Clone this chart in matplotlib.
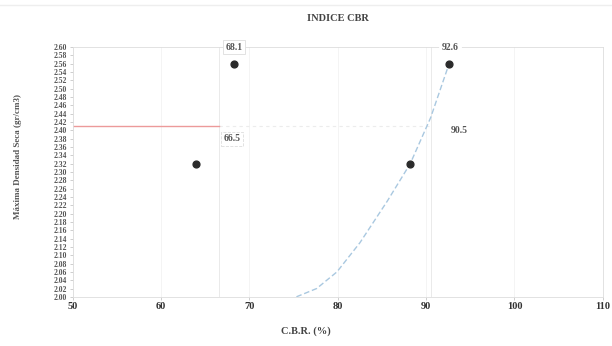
import matplotlib
matplotlib.use("Agg")
import matplotlib.pyplot as plt
import numpy as np

plt.rcParams["font.family"] = ["Liberation Serif", "DejaVu Serif"]

# data
cbr_left = [63.9, 68.2]
mds_left = [2.32, 2.56]
cbr_right = [88.2, 92.6]
mds_right = [2.32, 2.56]
curve_cbr = [74.5, 75.3, 77.6, 79.9, 82.5, 85.6, 88.2, 90.5, 92.6]
curve_mds = [1.99, 2.00, 2.02, 2.06, 2.13, 2.23, 2.32, 2.43, 2.56]
mds_95 = 2.41
cbr_95_left = 66.5
cbr_95_right = 90.5
label_top = ["68.1", "92.6"]
label_95 = ["66.5", "90.5"]
x_ticks = [50, 60, 70, 80, 90, 100, 110]
y_ticks = np.round(np.arange(2.00, 2.601, 0.02), 2)

fig = plt.figure(figsize=(6.12, 3.46), dpi=100)
ax = fig.add_axes([0.119, 0.142, 0.866, 0.722])

# light grid
for xv in x_ticks:
    ax.axvline(xv, color="#f2f2f2", lw=0.6, zorder=0)
ax.axvline(cbr_95_left, color="#e6e6e6", lw=0.6, zorder=0)
ax.axvline(cbr_95_right, color="#e6e6e6", lw=0.6, zorder=0)

# 95% density line
ax.plot([50, cbr_95_left], [mds_95, mds_95], color="#ec9a9a", lw=1.0, zorder=2)
ax.plot([cbr_95_left, cbr_95_right], [mds_95, mds_95], color="#ececec", lw=0.8,
        ls=(0, (3, 3)), zorder=1)

# fitted curve
ax.plot(curve_cbr, curve_mds, color="#a9c8e0", lw=1.0, ls=(0, (4, 2)), zorder=2)

# test points
ax.scatter(cbr_left + cbr_right, mds_left + mds_right, s=24, color="#2b2b2b", zorder=3)

# labels
ax.text(cbr_left[1] + 0.1, 2.60, label_top[0], fontsize=7, color="#555555",
        ha="center", va="center", fontweight="bold",
        bbox=dict(boxstyle="square,pad=0.25", fc="white", ec="#dddddd", lw=0.6))
ax.text(cbr_right[1] + 0.1, 2.60, label_top[1], fontsize=7, color="#555555",
        ha="center", va="center", fontweight="bold",
        bbox=dict(boxstyle="square,pad=0.25", fc="white", ec="white", lw=0.6))
ax.text(68.0, 2.38, label_95[0], fontsize=7, color="#555555",
        ha="center", va="center", fontweight="bold",
        bbox=dict(boxstyle="square,pad=0.25", fc="white", ec="#dddddd", lw=0.6, ls="--"))
ax.text(93.8, 2.40, label_95[1], fontsize=7, color="#555555",
        ha="center", va="center", fontweight="bold")

ax.set_xlim(50, 110)
ax.set_ylim(2.00, 2.60)
ax.set_xticks(x_ticks)
ax.set_xticklabels([str(v) for v in x_ticks], fontsize=7.5, color="#333333",
                   fontweight="bold")
ax.set_yticks(y_ticks)
ax.set_yticklabels([f"{v:.2f}" for v in y_ticks], fontsize=5.5, color="#555555",
                   fontweight="bold")
ax.tick_params(axis="both", length=2, width=0.5, color="#bbbbbb", pad=2)

for side in ["left", "right", "top", "bottom"]:
    ax.spines[side].set_color("#dddddd")
    ax.spines[side].set_linewidth(0.6)

ax.set_title("INDICE CBR", fontsize=7.5, fontweight="bold", color="#444444", pad=19)
ax.set_xlabel("C.B.R. (%)", fontsize=7.5, fontweight="bold", color="#444444")
ax.xaxis.set_label_coords(0.44, -0.12)
ax.set_ylabel("Máxima Densidad Seca (gr/cm3)", fontsize=6.5, fontweight="bold",
              color="#555555")
ax.yaxis.set_label_coords(-0.095, 0.56)

# faint page header line
fig.add_artist(plt.Line2D([0.0, 1.0], [0.985, 0.985], color="#eeeeee", lw=1.0))

fig.savefig("out.png", dpi=100)
